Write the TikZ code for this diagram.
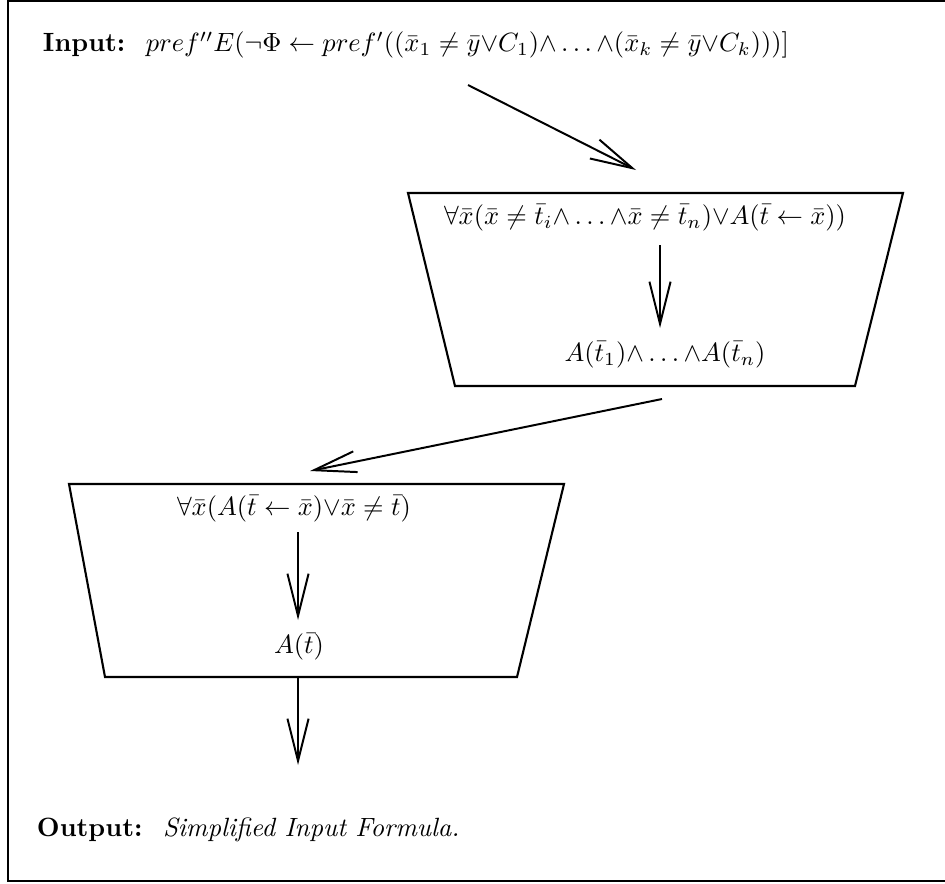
\documentclass[tikz,border=0pt]{standalone}
\usepackage{amsmath,amssymb}
\usetikzlibrary{arrows.meta}

\begin{document}
\begin{tikzpicture}[x=.0133cm,y=-.0133cm,line width=.75pt,>={Straight Barb[length=16pt,width=8pt]},
  formula/.style={inner sep=0pt},
  trap/.style={line width=.8pt}]
\useasboundingbox (0,0) rectangle (945,883);
\draw[line width=.9pt] (960,1)--(8,1)--(8,881)--(960,881);
% input
\node[formula,anchor=west] (input) at (42,45) {\textbf{Input:}~ $pref''E(\neg\Phi\leftarrow pref'((\bar{x}_1\neq\bar{y}{\vee}C_1){\wedge}\ldots{\wedge}(\bar{x}_k\neq\bar{y}{\vee}C_k)))]$};
\coordinate (inA) at (468,85);
\coordinate (inB) at (636,170);
\draw[->] (inA)--(inB);
% first trapezium
\draw[trap] (408,193)--(903,193)--(855,386)--(455,386)--cycle;
\node[formula] (allA) at (645,218) {$\forall\bar{x}(\bar{x}\neq\bar{t}_i{\wedge}\ldots{\wedge}\bar{x}\neq\bar{t}_n){\vee}A(\bar{t}\leftarrow\bar{x}))$};
\node[formula] (conjA) at (665,355) {$A(\bar{t}_1){\wedge}\ldots{\wedge}A(\bar{t}_n)$};
\coordinate (downA) at (660,245);
\coordinate (downB) at (660,328);
\draw[->] (downA)--(downB);
\coordinate (midA) at (662,399);
\coordinate (midB) at (310,471);
\draw[->] (midA)--(midB);
% second trapezium
\draw[trap] (69,484)--(564,484)--(517,677)--(105,677)--cycle;
\node[formula] (allB) at (294,509) {$\forall\bar{x}(A(\bar{t}\leftarrow\bar{x}){\vee}\bar{x}\neq\bar{t})$};
\node[formula] (conjB) at (299,647) {$A(\bar{t})$};
\coordinate (downC) at (298,532);
\coordinate (downD) at (298,620);
\draw[->] (downC)--(downD);
\coordinate (outA) at (298,677);
\coordinate (outB) at (298,765);
\draw[->] (outA)--(outB);
% output
\node[formula,anchor=west] (output) at (36,830) {\textbf{Output:}~ \textit{Simplified Input Formula.}};
\end{tikzpicture}
\end{document}
